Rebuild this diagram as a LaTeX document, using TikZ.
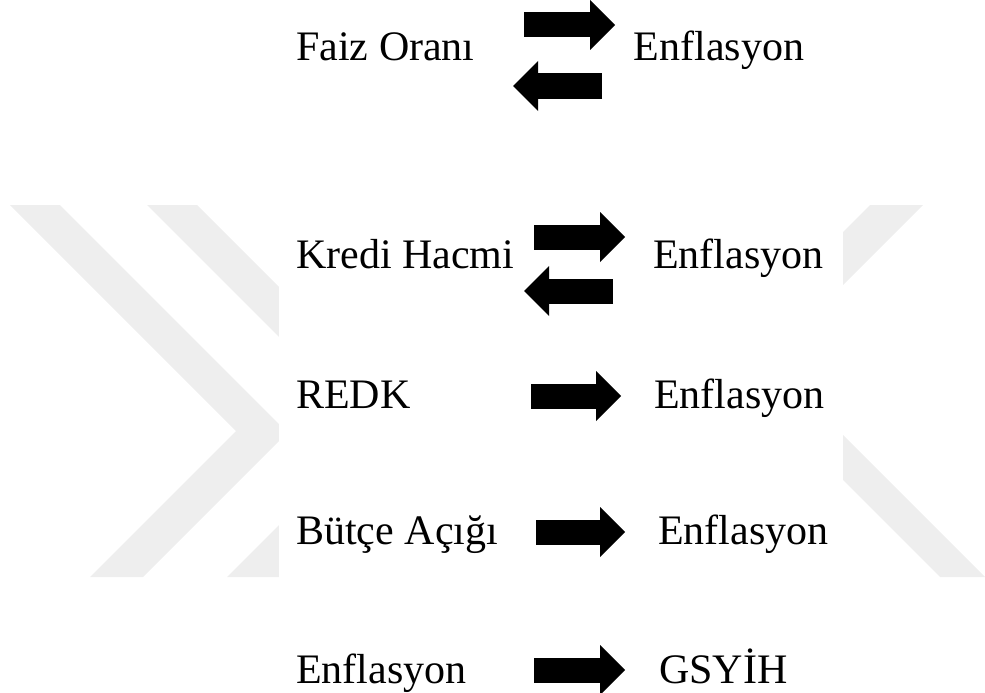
\documentclass[tikz,border=0pt]{standalone}
\usepackage{fontspec}
\setmainfont{Liberation Serif}
\usetikzlibrary{arrows.meta}
\definecolor{markgray}{RGB}{238,238,238}
\tikzset{
  lbl/.style={anchor=base west, inner sep=0pt, font=\fontsize{42}{50}\selectfont},
  blockarrow/.style={line width=25pt, line cap=butt,
    -{Triangle[length=25pt, width=50pt, line width=0pt]}}
}
\begin{document}
\begin{tikzpicture}[x=1pt, y=-1pt]
\useasboundingbox (0,0) rectangle (985,693);
% background chevron marks
\fill[markgray] (10,205) -- (60,205) -- (287.5,432.5) -- (143,577) -- (90,577) -- (236,431) -- cycle;
\fill[markgray] (147,205) -- (197,205) -- (424.5,432.5) -- (280,577) -- (227,577) -- (373,431) -- cycle;
\fill[markgray] (870,205) -- (923,205) -- (768,360) -- (985,577) -- (940,577) -- (719,356) -- cycle;
\fill[white] (279,195) rectangle (843,590);

% variables
\node[lbl] (faiz) at (296,61) {Faiz Oranı};
\node[lbl] (enfA) at (633.6,61) {Enflasyon};
\node[lbl] (kredi) at (296,268) {Kredi Hacmi};
\node[lbl] (enfB) at (653,268) {Enflasyon};
\node[lbl] (redk) at (296,408) {REDK};
\node[lbl] (enfC) at (654,408) {Enflasyon};
\node[lbl] (butce) at (296,544) {Bütçe Açığı};
\node[lbl] (enfD) at (658,544) {Enflasyon};
\node[lbl] (enfE) at (296,683) {Enflasyon};
\node[lbl] (gsyih) at (659,683) {GSYİH};

% arrow end points
\coordinate (aAs) at (524,25);  \coordinate (aAe) at (615,25);
\coordinate (bAs) at (602,86);  \coordinate (bAe) at (513,86);
\coordinate (aBs) at (534,237); \coordinate (aBe) at (625,237);
\coordinate (bBs) at (613,291); \coordinate (bBe) at (524,291);
\coordinate (aCs) at (531,396); \coordinate (aCe) at (621,396);
\coordinate (aDs) at (536,532); \coordinate (aDe) at (625,532);
\coordinate (aEs) at (534,670); \coordinate (aEe) at (625,670);

\draw[blockarrow] (aAs) -- (aAe);
\draw[blockarrow] (bAs) -- (bAe);
\draw[blockarrow] (aBs) -- (aBe);
\draw[blockarrow] (bBs) -- (bBe);
\draw[blockarrow] (aCs) -- (aCe);
\draw[blockarrow] (aDs) -- (aDe);
\draw[blockarrow] (aEs) -- (aEe);
\end{tikzpicture}
\end{document}
